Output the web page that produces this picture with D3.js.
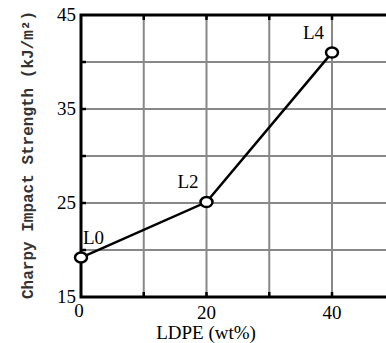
<!DOCTYPE html>
<html>
<head>
    <meta charset="utf-8">
    <title>Charpy</title>
    <script src="https://d3js.org/d3.v7.min.js"></script>
    <style>
        body { margin: 0; background: #fff; }
        svg { display: block; }
    </style>
</head>
<body>
    <svg id="chartdiv" width="386" height="343"></svg>
    <script>
        // data
        const ldpe = [0, 20, 40];
        const strength = [19.2, 25.1, 41.0];
        const pointLabels = ["L0", "L2", "L4"];
        const yTicks = [15, 25, 35, 45];
        const xTicks = [0, 20, 40];

        const x = d3.scaleLinear().domain([0, 50]).range([81, 81 + 50 * 6.275]);
        const y = d3.scaleLinear().domain([15, 45]).range([297, 15]);

        const svg = d3.select("#chartdiv");

        // grid
        svg.append("g")
            .selectAll("line")
            .data(d3.range(10, 51, 10))
            .join("line")
            .attr("x1", d => x(d)).attr("x2", d => x(d))
            .attr("y1", y(45)).attr("y2", y(15))
            .attr("stroke", "#888").attr("stroke-width", 2);
        svg.append("g")
            .selectAll("line")
            .data(d3.range(20, 45, 5))
            .join("line")
            .attr("x1", x(0)).attr("x2", x(50))
            .attr("y1", d => y(d)).attr("y2", d => y(d))
            .attr("stroke", "#888").attr("stroke-width", 2);

        // frame (left, top, bottom)
        svg.append("path")
            .attr("d", `M${x(50)},${y(45)}H${x(0)}V${y(15)}H${x(50)}`)
            .attr("fill", "none").attr("stroke", "#000").attr("stroke-width", 3);

        // little dark ticks
        const tk = svg.append("g").attr("stroke", "#000").attr("stroke-width", 2.5);
        d3.range(10, 51, 10).forEach(v => {
            tk.append("line").attr("x1", x(v)).attr("x2", x(v)).attr("y1", y(45)).attr("y2", y(45) + 5);
            tk.append("line").attr("x1", x(v)).attr("x2", x(v)).attr("y1", y(15)).attr("y2", y(15) - 5);
        });
        d3.range(20, 45, 5).forEach(v => {
            tk.append("line").attr("x1", x(0)).attr("x2", x(0) + 5).attr("y1", y(v)).attr("y2", y(v));
        });

        // series
        const pts = ldpe.map((v, i) => [v, strength[i]]);
        svg.append("path")
            .datum(pts)
            .attr("fill", "none")
            .attr("stroke", "#000")
            .attr("stroke-width", 2.5)
            .attr("d", d3.line().x(d => x(d[0])).y(d => y(d[1])));

        svg.append("g")
            .selectAll("ellipse")
            .data(pts)
            .join("ellipse")
            .attr("cx", d => x(d[0]))
            .attr("cy", d => y(d[1]))
            .attr("rx", 6)
            .attr("ry", 5)
            .attr("fill", "#fff")
            .attr("stroke", "#000")
            .attr("stroke-width", 2.5);

        function addText(tx, ty, str, anchor) {
            return svg.append("text")
                .attr("x", tx).attr("y", ty)
                .attr("text-anchor", anchor)
                .style("font-family", "Times New Roman")
                .style("font-size", "19px")
                .text(str);
        }

        yTicks.forEach(v => addText(x(0) - 5, y(v) + 6, v, "end"));
        xTicks.forEach(v => addText(x(v) + (v === 0 ? -2 : 0), v === 0 ? 317 : 319, v, "middle"));
        addText(206, 339, "LDPE (wt%)", "middle");
        pts.forEach((d, i) => addText(x(d[0]) + (d[0] === 0 ? 2 : -8), y(d[1]) - 14, pointLabels[i], d[0] === 0 ? "start" : "end"));

        svg.append("text")
            .attr("transform", `translate(33,155) rotate(-90)`)
            .attr("text-anchor", "middle")
            .style("font-family", "Liberation Mono")
            .style("font-weight", "bold")
            .style("font-size", "16px")
            .attr("fill", "#333")
            .text("Charpy Impact Strength (kJ/m²)");
    </script>
</body>
</html>
